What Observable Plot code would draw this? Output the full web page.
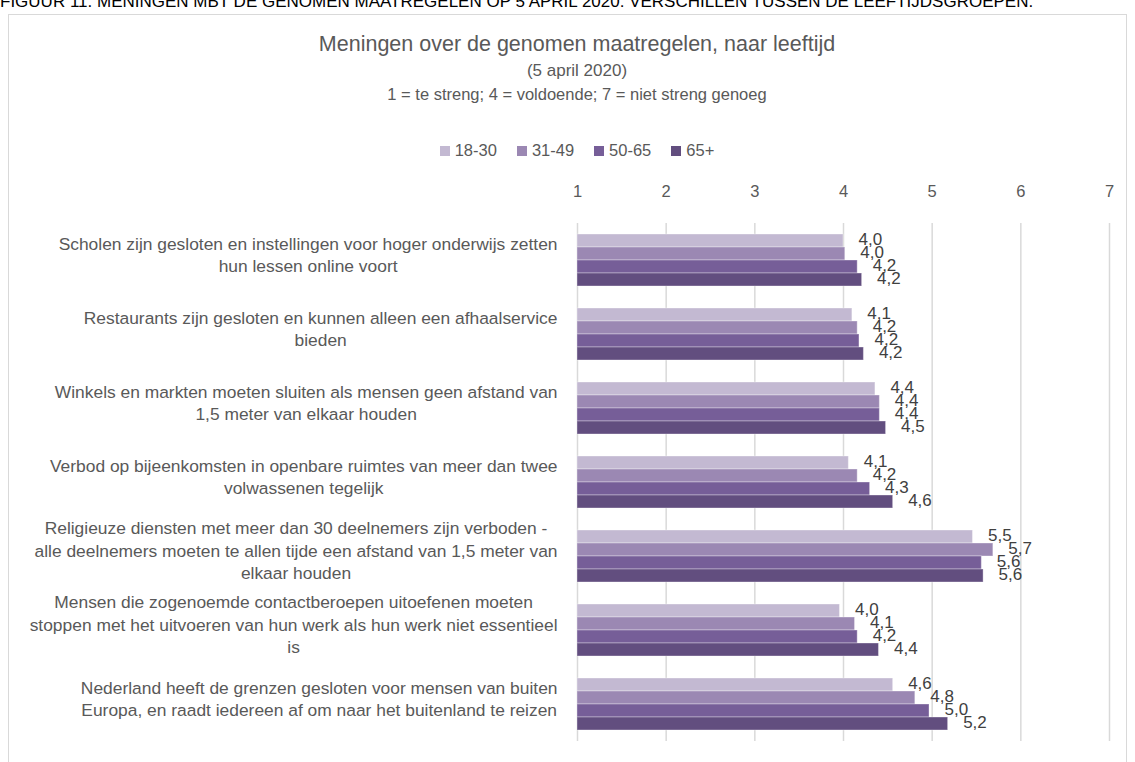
<!DOCTYPE html>
<html>
<head>
<meta charset="utf-8">
<script src="https://cdn.jsdelivr.net/npm/d3@7"></script>
<script src="https://cdn.jsdelivr.net/npm/@observablehq/plot@0.6"></script>
<style>
  html, body { margin: 0; padding: 0; background: #fff; }
  body { width: 1135px; height: 762px; position: relative; overflow: hidden;
         font-family: "Liberation Sans", Arial, sans-serif; color: #595959; }
  #caption { position: absolute; left: 0; top: -7px; font-size: 17px; line-height: 1; color: #000; white-space: nowrap; }
  #frame { position: absolute; left: 8px; top: 14px; width: 1119px; height: 800px; border: 1px solid #d9d9d9; box-sizing: border-box; }
  .center { position: absolute; left: 8px; width: 1138px; text-align: center; white-space: nowrap; }
  #title { top: 32px; font-size: 21.5px; }
  #sub1 { top: 61px; font-size: 17px; }
  #sub2 { top: 85px; font-size: 16.5px; }
  #legend { top: 141px; font-size: 16.5px; display: flex; justify-content: center; gap: 20px; }
  #legend span.item { display: inline-flex; align-items: center; }
  #legend span.sw { display: inline-block; width: 10px; height: 10px; margin-right: 5px; }
  #chart { position: absolute; left: 0; top: 170px; }
</style>
</head>
<body>
<div id="caption">FIGUUR 11. MENINGEN MBT DE GENOMEN MAATREGELEN OP 5 APRIL 2020: VERSCHILLEN TUSSEN DE LEEFTIJDSGROEPEN.</div>
<div id="frame"></div>
<div id="title" class="center">Meningen over de genomen maatregelen, naar leeftijd</div>
<div id="sub1" class="center">(5 april 2020)</div>
<div id="sub2" class="center">1 = te streng; 4 = voldoende; 7 = niet streng genoeg</div>
<div id="legend" class="center"></div>
<div id="chart"></div>
<script>
const categories = [
  "Scholen zijn gesloten en instellingen voor hoger onderwijs zetten\nhun lessen online voort",
  "Restaurants zijn gesloten en kunnen alleen een afhaalservice\nbieden",
  "Winkels en markten moeten sluiten als mensen geen afstand van\n1,5 meter van elkaar houden",
  "Verbod op bijeenkomsten in openbare ruimtes van meer dan twee\nvolwassenen tegelijk",
  "Religieuze diensten met meer dan 30 deelnemers zijn verboden -\nalle deelnemers moeten te allen tijde een afstand van 1,5 meter van\nelkaar houden",
  "Mensen die zogenoemde contactberoepen uitoefenen moeten\nstoppen met het uitvoeren van hun werk als hun werk niet essentieel\nis",
  "Nederland heeft de grenzen gesloten voor mensen van buiten\nEuropa, en raadt iedereen af om naar het buitenland te reizen"
];
const groups = ["18-30", "31-49", "50-65", "65+"];
const values18_30 = [4.00, 4.10, 4.36, 4.06, 5.46, 3.96, 4.56];
const values31_49 = [4.02, 4.16, 4.41, 4.16, 5.69, 4.13, 4.81];
const values50_65 = [4.16, 4.18, 4.41, 4.30, 5.56, 4.16, 4.97];
const values65plus = [4.21, 4.23, 4.48, 4.56, 5.58, 4.40, 5.18];
const colors = ["#c3b9d2", "#9b88b3", "#765e98", "#624e7f"];
const xTicks = [1, 2, 3, 4, 5, 6, 7];

const series = [values18_30, values31_49, values50_65, values65plus];
const data = [];
categories.forEach((c, i) => groups.forEach((g, j) => data.push({category: c, group: g, value: series[j][i]})));

const fmt = v => d3.format(".1f")(v).replace(".", ",");

// legend
const legend = document.getElementById("legend");
groups.forEach((g, j) => {
  const it = document.createElement("span");
  it.className = "item";
  it.innerHTML = `<span class="sw" style="background:${colors[j]}"></span>${g}`;
  legend.appendChild(it);
});

const chart = Plot.plot({
  width: 1135,
  height: 580,
  marginLeft: 577,
  marginRight: 26,
  marginTop: 52,
  marginBottom: 9,
  style: {fontFamily: '"Liberation Sans", Arial, sans-serif', color: "#595959", background: "transparent"},
  x: {domain: [xTicks[0], xTicks[xTicks.length - 1]], ticks: xTicks, label: null, axis: null},
  fy: {domain: categories, padding: 0, label: null, axis: null},
  y: {domain: groups, paddingInner: 0, paddingOuter: 0.8, axis: null, label: null},
  color: {domain: groups, range: colors},
  marks: [
    Plot.gridX(xTicks, {stroke: "#d9d9d9", strokeOpacity: 1, strokeWidth: 1.5}),
    Plot.barX(data, {fy: "category", y: "group", x1: () => xTicks[0], x2: "value", fill: "group", stroke: "#ffffff", strokeOpacity: 0.35, strokeWidth: 1}),
    Plot.text(data, {fy: "category", y: "group", x: "value", text: d => fmt(d.value), textAnchor: "start", dx: 15, dy: -1, fontSize: 17, fill: "#404040"}),
    Plot.axisX(xTicks, {anchor: "top", tickSize: 0, tickPadding: 27, fontSize: 16.5, fill: "#595959", label: null}),
    Plot.axisFy({anchor: "left", tickSize: 0, tickPadding: 20, dy: -7, fontSize: 17.4, fill: "#595959", label: null, lineHeight: 1.27})
  ]
});
document.getElementById("chart").appendChild(chart);

// center multi-line category labels within their block (Excel style)
chart.querySelectorAll("text").forEach(t => {
  const spans = t.querySelectorAll("tspan");
  if (spans.length < 2) return;
  const ws = [...spans].map(s => s.getComputedTextLength());
  const maxW = Math.max(...ws);
  t.setAttribute("text-anchor", "middle");
  spans.forEach(s => s.setAttribute("x", -maxW / 2));
});
</script>
</body>
</html>
